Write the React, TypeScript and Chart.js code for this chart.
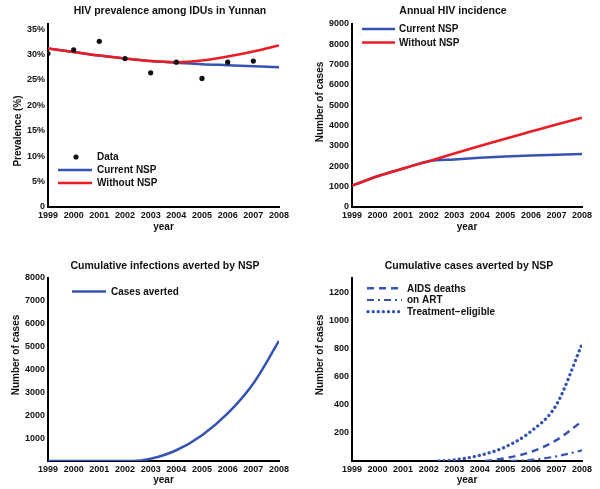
import React, { useEffect, useRef } from 'react';
import { Chart, registerables } from 'chart.js';

Chart.register(...registerables);

const FONT = '"Liberation Sans", Arial, sans-serif';
const BLUE = '#3553b3';
const RED = '#ed1c24';
const INK = '#111111';

// ---- shared x axis ----
const yearTicks = [1999, 2000, 2001, 2002, 2003, 2004, 2005, 2006, 2007, 2008];

// ---- Panel 1: HIV prevalence ----
const prevYears = [1999, 2000, 2001, 2002, 2003, 2004, 2005, 2006, 2007, 2008];
const prevWithoutNSP = [31.2, 30.5, 29.8, 29.2, 28.7, 28.5, 28.8, 29.6, 30.6, 31.8];
const prevCurrentNSP = [31.2, 30.5, 29.8, 29.2, 28.7, 28.4, 28.1, 27.9, 27.7, 27.5];
const obsYears = [1999, 2000, 2001, 2002, 2003, 2004, 2005, 2006, 2007];
const obsPrevalence = [30.2, 30.9, 32.6, 29.2, 26.4, 28.5, 25.3, 28.5, 28.7];
const prevTicks = [0, 5, 10, 15, 20, 25, 30, 35];

// ---- Panel 2: annual incidence ----
const incYears = [1999, 2000, 2001, 2002, 2003, 2004, 2005, 2006, 2007, 2008];
const incWithoutNSP = [1050, 1510, 1890, 2250, 2630, 3000, 3360, 3710, 4060, 4390];
const incCurrentNSP = [1050, 1510, 1890, 2250, 2340, 2420, 2480, 2530, 2570, 2610];
const incTicks = [0, 1000, 2000, 3000, 4000, 5000, 6000, 7000, 8000, 9000];

// ---- Panel 3: cumulative infections averted ----
const avertYears = [1999, 2000, 2001, 2002, 2002.3, 2003, 2004, 2005, 2006, 2007, 2008];
const avertCases = [0, 0, 0, 0, 0, 100, 470, 1130, 2080, 3390, 5250];
const avertTicks = [0, 1000, 2000, 3000, 4000, 5000, 6000, 7000, 8000];

// ---- Panel 4: cumulative cases averted ----
const deathYears = [2004.2, 2005, 2006, 2007, 2008];
const deathCases = [0, 20, 65, 148, 282];
const artYears = [2005.2, 2006, 2007, 2008];
const artCases = [0, 8, 33, 75];
const eligYears = [2002.4, 2003, 2004, 2005, 2006, 2007, 2008];
const eligCases = [0, 8, 40, 100, 210, 400, 830];
const caseTicks = [0, 200, 400, 600, 800, 1000, 1200];

const DOTS = [0.1, 5];
const DASH = [7, 5];
const DASHDOT = [7, 4, 2, 4];

const pts = (xs: number[], ys: number[]) => xs.map((x, i) => ({ x, y: ys[i] }));

const curve = (xs: number[], ys: number[], color: string, extra: any = {}) => ({
  type: 'line',
  data: pts(xs, ys),
  borderColor: color,
  backgroundColor: color,
  borderWidth: 2.5,
  pointRadius: 0,
  fill: false,
  cubicInterpolationMode: 'monotone',
  ...extra,
});

type LegendItem = {
  label: string;
  kind: 'dot' | 'line';
  color: string;
  dash?: number[];
  cap?: CanvasLineCap;
  width?: number;
  x1: number;
  x2: number;
  y: number;
  tx: number;
};

type Deco = {
  title: { text: string; x: number; y: number };
  yTitle: { text: string; x: number; y: number };
  legend: LegendItem[];
};

function decoPlugin(d: Deco) {
  return {
    id: 'deco',
    afterDraw(chart: any) {
      const ctx = chart.ctx as CanvasRenderingContext2D;
      ctx.save();
      ctx.textBaseline = 'middle';
      ctx.fillStyle = INK;
      ctx.font = `bold 10.5px ${FONT}`;
      ctx.textAlign = 'center';
      ctx.fillText(d.title.text, d.title.x, d.title.y);

      ctx.save();
      ctx.translate(d.yTitle.x, d.yTitle.y);
      ctx.rotate(-Math.PI / 2);
      ctx.font = `bold 10px ${FONT}`;
      ctx.fillText(d.yTitle.text, 0, 0);
      ctx.restore();

      for (const it of d.legend) {
        if (it.kind === 'dot') {
          ctx.beginPath();
          ctx.fillStyle = it.color;
          ctx.arc((it.x1 + it.x2) / 2, it.y, 2.6, 0, Math.PI * 2);
          ctx.fill();
        } else {
          ctx.beginPath();
          ctx.setLineDash(it.dash || []);
          ctx.lineCap = it.cap || 'butt';
          ctx.lineWidth = it.width || 2.5;
          ctx.strokeStyle = it.color;
          ctx.moveTo(it.x1, it.y);
          ctx.lineTo(it.x2, it.y);
          ctx.stroke();
          ctx.setLineDash([]);
        }
        ctx.fillStyle = INK;
        ctx.font = `bold 10px ${FONT}`;
        ctx.textAlign = 'left';
        ctx.fillText(it.label, it.tx, it.y + 0.5);
      }
      ctx.restore();
    },
  };
}

function xScale(height: number) {
  return {
    type: 'linear',
    min: 1999,
    max: 2008,
    afterBuildTicks: (s: any) => {
      s.ticks = yearTicks.map((v) => ({ value: v }));
    },
    afterFit: (s: any) => {
      s.height = height;
    },
    ticks: {
      callback: (v: any) => String(v),
      font: { family: FONT, size: 9, weight: 'bold' },
      color: INK,
      padding: 3,
      maxRotation: 0,
      autoSkip: false,
    },
    grid: { display: false, drawTicks: false },
    border: { display: true, color: '#000', width: 2 },
    title: {
      display: true,
      text: 'year',
      font: { family: FONT, size: 10, weight: 'bold' },
      color: INK,
      padding: 0,
    },
  };
}

function yScale(width: number, max: number, ticks: number[], label: (v: number) => string) {
  return {
    type: 'linear',
    min: 0,
    max,
    afterBuildTicks: (s: any) => {
      s.ticks = ticks.map((v) => ({ value: v }));
    },
    afterFit: (s: any) => {
      s.width = width;
    },
    ticks: {
      callback: (v: any) => label(Number(v)),
      font: { family: FONT, size: 9, weight: 'bold' },
      color: INK,
      padding: 3,
      autoSkip: false,
    },
    grid: { display: false, drawTicks: false },
    border: { display: true, color: '#000', width: 2 },
  };
}

function baseOptions(pad: any, xh: number, yw: number, ymax: number, yt: number[], lab: (v: number) => string) {
  return {
    responsive: false,
    animation: false,
    layout: { padding: pad },
    plugins: { legend: { display: false }, tooltip: { enabled: false }, title: { display: false } },
    scales: { x: xScale(xh), y: yScale(yw, ymax, yt, lab) },
  };
}

const plain = (v: number) => String(v);
const noZero = (v: number) => (v === 0 ? '' : String(v));
const pct = (v: number) => (v === 0 ? '0' : `${v}%`);

function config1(): any {
  return {
    type: 'line',
    data: {
      datasets: [
        {
          type: 'line',
          data: pts(obsYears, obsPrevalence),
          showLine: false,
          pointRadius: 2.6,
          pointBackgroundColor: INK,
          pointBorderWidth: 0,
        },
        curve(prevYears, prevWithoutNSP, RED),
        curve(prevYears, prevCurrentNSP, BLUE),
      ],
    },
    options: baseOptions({ left: 0, right: 21, top: 24, bottom: 7 }, 26, 48, 36, prevTicks, pct),
    plugins: [
      decoPlugin({
        title: { text: 'HIV prevalence among IDUs in Yunnan', x: 170, y: 11 },
        yTitle: { text: 'Prevalence (%)', x: 18, y: 131 },
        legend: [
          { label: 'Data', kind: 'dot', color: INK, x1: 73, x2: 79, y: 157, tx: 97 },
          { label: 'Current NSP', kind: 'line', color: BLUE, x1: 58, x2: 92, y: 170, tx: 97 },
          { label: 'Without NSP', kind: 'line', color: RED, x1: 58, x2: 92, y: 183, tx: 97 },
        ],
      }),
    ],
  };
}

function config2(): any {
  return {
    type: 'line',
    data: {
      datasets: [curve(incYears, incWithoutNSP, RED), curve(incYears, incCurrentNSP, BLUE)],
    },
    options: baseOptions({ left: 0, right: 18, top: 24, bottom: 7 }, 26, 52, 9000, incTicks, plain),
    plugins: [
      decoPlugin({
        title: { text: 'Annual HIV incidence', x: 153, y: 11 },
        yTitle: { text: 'Number of cases', x: 20, y: 102 },
        legend: [
          { label: 'Current NSP', kind: 'line', color: BLUE, x1: 62, x2: 95, y: 29, tx: 99 },
          { label: 'Without NSP', kind: 'line', color: RED, x1: 62, x2: 95, y: 42.5, tx: 99 },
        ],
      }),
    ],
  };
}

function config3(): any {
  return {
    type: 'line',
    data: {
      datasets: [curve(avertYears, avertCases, BLUE)],
    },
    options: baseOptions({ left: 0, right: 21, top: 28, bottom: 3 }, 25, 48, 8000, avertTicks, noZero),
    plugins: [
      decoPlugin({
        title: { text: 'Cumulative infections averted by NSP', x: 165, y: 16 },
        yTitle: { text: 'Number of cases', x: 16, y: 105 },
        legend: [{ label: 'Cases averted', kind: 'line', color: BLUE, x1: 72, x2: 106, y: 41.5, tx: 111 }],
      }),
    ],
  };
}

function config4(): any {
  return {
    type: 'line',
    data: {
      datasets: [
        curve(eligYears, eligCases, BLUE, { borderDash: DOTS, borderCapStyle: 'round', borderWidth: 3.3 }),
        curve(deathYears, deathCases, BLUE, { borderDash: DASH }),
        curve(artYears, artCases, BLUE, { borderDash: DASHDOT, borderWidth: 2.2 }),
      ],
    },
    options: baseOptions({ left: 0, right: 18, top: 28, bottom: 3 }, 25, 52, 1300, caseTicks, noZero),
    plugins: [
      decoPlugin({
        title: { text: 'Cumulative cases averted by NSP', x: 169, y: 16.5 },
        yTitle: { text: 'Number of cases', x: 20, y: 105 },
        legend: [
          { label: 'AIDS deaths', kind: 'line', color: BLUE, dash: DASH, x1: 67, x2: 102, y: 38.3, tx: 107 },
          { label: 'on ART', kind: 'line', color: BLUE, dash: DASHDOT, width: 2.2, x1: 67, x2: 102, y: 50, tx: 107 },
          {
            label: 'Treatment\u2212eligible',
            kind: 'line',
            color: BLUE,
            dash: DOTS,
            cap: 'round',
            width: 3.3,
            x1: 68,
            x2: 102,
            y: 61.7,
            tx: 107,
          },
        ],
      }),
    ],
  };
}

function Panel(props: { left: number; top: number; width: number; height: number; make: () => any }) {
  const ref = useRef<HTMLCanvasElement>(null);
  useEffect(() => {
    const chart = new Chart(ref.current as HTMLCanvasElement, props.make());
    return () => chart.destroy();
  }, []);
  return (
    <canvas
      ref={ref}
      width={props.width}
      height={props.height}
      style={{ position: 'absolute', left: props.left, top: props.top, width: props.width, height: props.height }}
    />
  );
}

export default function App() {
  return (
    <div style={{ position: 'fixed', left: 0, top: 0, width: 600, height: 489, background: '#fff' }}>
      <Panel left={0} top={0} width={300} height={240} make={config1} />
      <Panel left={300} top={0} width={300} height={240} make={config2} />
      <Panel left={0} top={250} width={300} height={239} make={config3} />
      <Panel left={300} top={250} width={300} height={239} make={config4} />
    </div>
  );
}
